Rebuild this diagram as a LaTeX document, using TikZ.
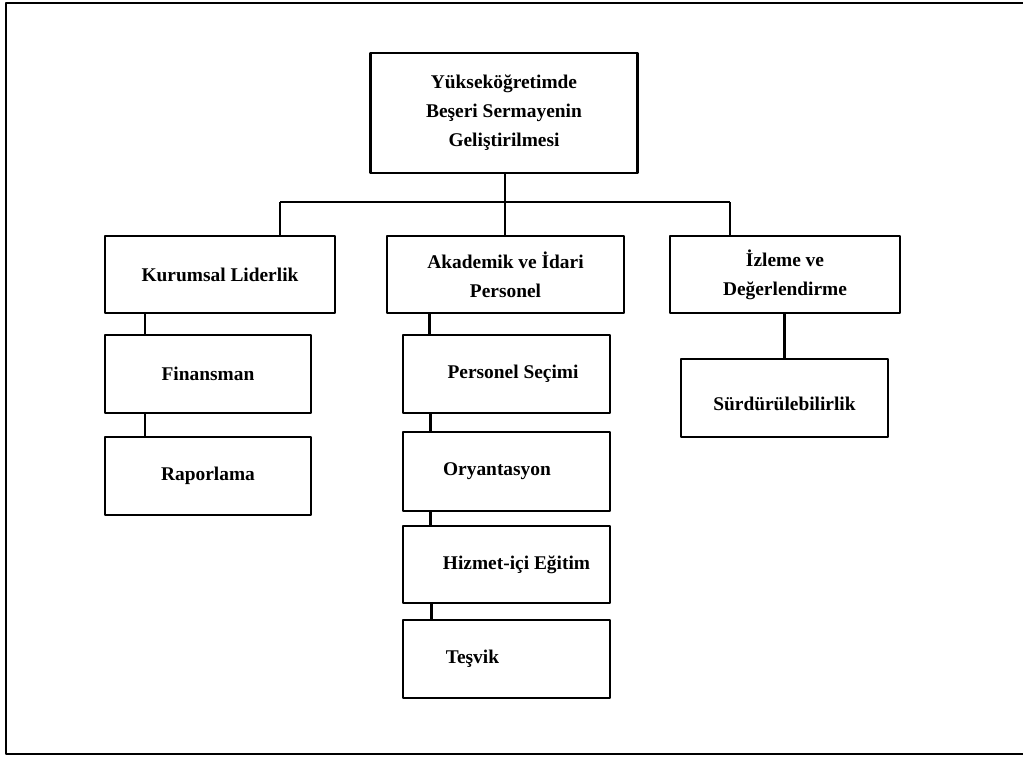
\documentclass[tikz,border=0pt]{standalone}
\usepackage{fontspec}
\setmainfont{Liberation Serif}
\usetikzlibrary{positioning}
\tikzset{
	kutu/.style={draw,line width=2.2pt,minimum height=78pt,inner sep=0pt,align=center,
		font=\fontsize{19.4}{29}\selectfont\bfseries},
	bag/.style={line width=2.2pt}
}
\begin{document}
\begin{tikzpicture}[x=1pt,y=-1pt,line join=round]
	\useasboundingbox (0,0) rectangle (1023,756);
	\draw[line width=2.6pt] (1023,3)--(6,3)--(6,754)--(1023,754);
	% kutular
	\node[kutu,minimum width=267pt,minimum height=120pt] (ana) at (504,113) {Yükseköğretimde\\Beşeri Sermayenin\\Geliştirilmesi};
	\node[kutu,minimum width=230pt,minimum height=77pt] (kl) at (220,274.5) {Kurumsal Liderlik};
	\node[kutu,minimum width=237pt,minimum height=77pt] (aip) at (505.5,274.5) {Akademik ve İdari\\Personel};
	\node[kutu,minimum width=230pt,minimum height=77pt] (id) at (785,274.5) {İzleme ve\\Değerlendirme};
	\node[kutu,minimum width=206pt] (fin) at (208,374) {Finansman};
	\node[kutu,minimum width=206pt] (rap) at (208,476) {Raporlama};
	\node[kutu,minimum width=207pt,label={[xshift=6.5pt,font=\fontsize{19.4}{29}\selectfont\bfseries]center:Personel Seçimi}] (ps) at (506.5,374) {};
	\node[kutu,minimum width=207pt,minimum height=79pt,label={[xshift=-9.5pt,font=\fontsize{19.4}{29}\selectfont\bfseries]center:Oryantasyon}] (ory) at (506.5,471.5) {};
	\node[kutu,minimum width=207pt,minimum height=77pt,label={[xshift=10pt,font=\fontsize{19.4}{29}\selectfont\bfseries]center:Hizmet-içi Eğitim}] (hiz) at (506.5,564.5) {};
	\node[kutu,minimum width=207pt,label={[xshift=-34pt,font=\fontsize{19.4}{29}\selectfont\bfseries]center:Teşvik}] (tes) at (506.5,659) {};
	\node[kutu,minimum width=207pt,label={[yshift=-6pt,font=\fontsize{19.4}{29}\selectfont\bfseries]center:Sürdürülebilirlik}] (sur) at (784.5,398) {};
	% baglantilar
	\coordinate (ort) at (505,202);
	\coordinate (sol) at (280,202);
	\coordinate (sag) at (730,202);
	\draw[bag] (ana.south-|ort)--(ort);
	\draw[bag] (sol)--(sag);
	\draw[bag] (sol)--(sol|-kl.north);
	\draw[bag] (ort)--(ort|-aip.north);
	\draw[bag] (sag)--(sag|-id.north);
	\draw[bag] ([xshift=-75pt]kl.south)--([xshift=-75pt]kl.south|-fin.north);
	\draw[bag] ([xshift=-63pt]fin.south)--([xshift=-63pt]fin.south|-rap.north);
	\draw[bag] ([xshift=-76pt]aip.south)--([xshift=-76pt]aip.south|-ps.north);
	\draw[bag] ([xshift=-76pt]ps.south)--([xshift=-76pt]ps.south|-ory.north);
	\draw[bag] ([xshift=-76pt]ory.south)--([xshift=-76pt]ory.south|-hiz.north);
	\draw[bag] ([xshift=-75pt]hiz.south)--([xshift=-75pt]hiz.south|-tes.north);
	\draw[bag] (id.south-|sur)--(sur.north);
\end{tikzpicture}
\end{document}
